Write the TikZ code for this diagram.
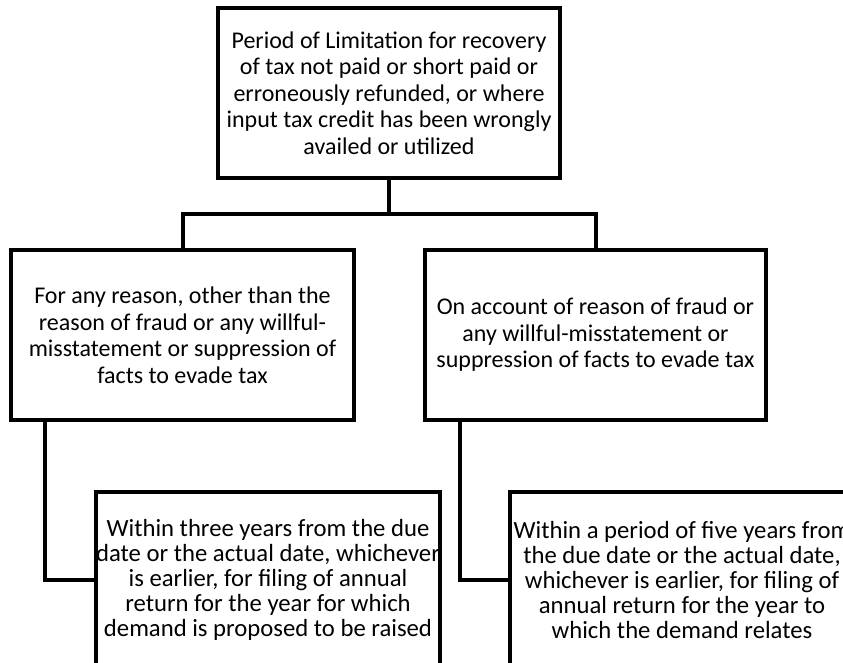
\documentclass[tikz,border=0pt]{standalone}
\usepackage{fontspec}
\setmainfont{Carlito}
\begin{document}
\begin{tikzpicture}[x=1pt,y=-1pt,
  box/.style={draw=black,line width=4pt,rectangle,inner sep=0pt,minimum width=#1,minimum height=170pt},
  txt/.style={align=center,inner sep=0pt,font=\fontsize{24}{26.5}\selectfont},
  txtb/.style={align=center,inner sep=0pt,font=\fontsize{24.7}{25}\selectfont},
  conn/.style={draw=black,line width=4pt,line cap=butt}]
\useasboundingbox (0,0) rectangle (843,662);
\clip (0,0) rectangle (843,662);
\node[box=342pt] (top) at (389,93) {};
\node[box=343pt] (left) at (182.5,335) {};
\node[box=341pt] (right) at (595.5,335) {};
\node[box=344pt,minimum height=176pt] (b3) at (268,580) {};
\node[box=344pt,minimum height=176pt] (b4) at (682,580) {};
\node[txt] (toptxt) at (top.center) {Period of Limitation for recovery\\ of tax not paid or short paid or\\ erroneously refunded, or where\\ input tax credit has been wrongly\\ availed or utilized};
\node[txt] (lefttxt) at (left.center) {For any reason, other than the\\ reason of fraud or any willful-\\ misstatement or suppression of\\ facts to evade tax};
\node[txt] (righttxt) at (right.center) {On account of reason of fraud or\\ any willful-misstatement or\\ suppression of facts to evade tax};
\node[txtb] (b3txt) at (b3.center) {Within three years from the due\\ date or the actual date, whichever\\ is earlier, for filing of annual\\ return for the year for which\\ demand is proposed to be raised};
\node[txtb] (b4txt) at (b4.center) {Within a period of five years from\\ the due date or the actual date,\\ whichever is earlier, for filing of\\ annual return for the year to\\ which the demand relates};
\coordinate (bar) at (389,214);
\coordinate (lstart) at (45,420);
\coordinate (rstart) at (460,420);
\draw[conn] (top.south) -- (bar);
\draw[conn,line join=miter] (left.north) |- (bar) -| (right.north);
\draw[conn,line join=miter] (lstart) |- (b3.west);
\draw[conn,line join=miter] (rstart) |- (b4.west);
\end{tikzpicture}
\end{document}
